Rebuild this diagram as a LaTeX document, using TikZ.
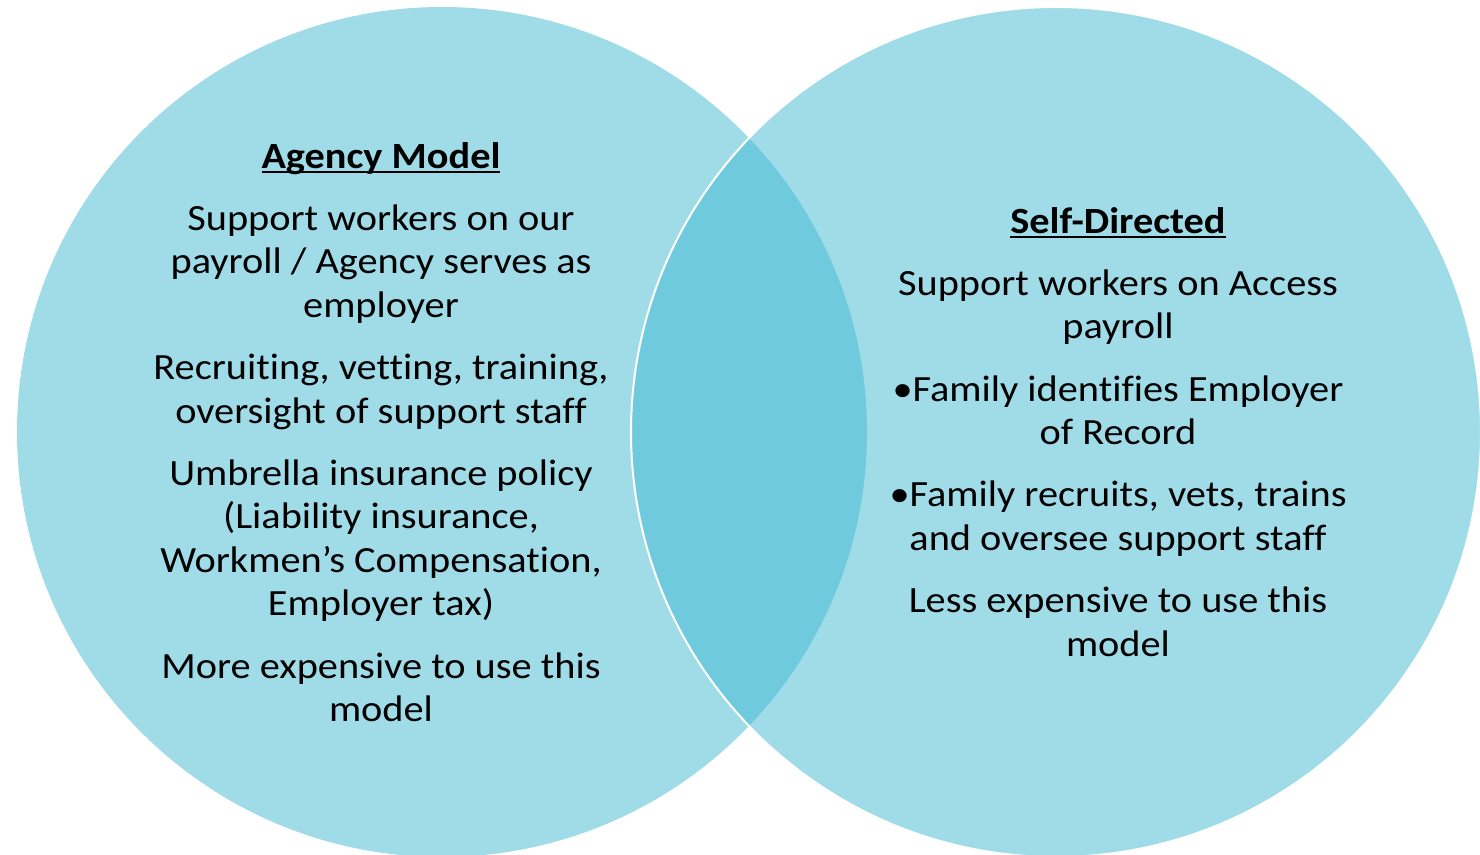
\documentclass[tikz,border=0pt]{standalone}
\usepackage{fontspec}
\setmainfont{Carlito}[FakeStretch=1.09, Ligatures=NoCommon]
\usetikzlibrary{positioning}
\definecolor{venn}{RGB}{160,220,232}
\definecolor{vennmid}{RGB}{112,202,222}
\newsavebox\headbox
\newcommand{\ulbold}[1]{\sbox\headbox{\textbf{#1}}\rlap{\rule[-2.5pt]{\wd\headbox}{1pt}}\usebox\headbox}
\tikzset{
  blurb/.style={align=center, inner sep=0pt, font=\fontsize{18.5}{21.75}\selectfont},
  gap/.style={below=9pt of #1},
}

\begin{document}
\begin{tikzpicture}[x=0.5pt, y=-0.5pt]
  \useasboundingbox (0,0) rectangle (1480,855);
  \coordinate (lc) at (442,432);
  \coordinate (rc) at (1056,432);
  % the two circles
  \fill[venn] (lc) circle[radius=212.5pt];
  \fill[venn] (rc) circle[radius=212.5pt];
  \begin{scope}
    \clip (lc) circle[radius=212.5pt];
    \fill[vennmid] (rc) circle[radius=212.5pt];
  \end{scope}
  \draw[white, line width=1pt] (rc) circle[radius=212.5pt];

  % left side
  \node[blurb, anchor=north] (agency) at (381,137.2) {\strut\ulbold{Agency Model}};
  \node[blurb, gap=agency] (agencypay) {\strut Support workers on our\\
    \strut payroll / Agency serves as\\ \strut employer};
  \node[blurb, gap=agencypay] (agencyrec) {\strut Recruiting, vetting, training,\\
    \strut oversight of support staff};
  \node[blurb, gap=agencyrec] (agencyins) {\strut Umbrella insurance policy\\
    \strut (Liability insurance,\\ \strut Workmen’s Compensation,\\ \strut Employer tax)};
  \node[blurb, gap=agencyins] (agencycost) {\strut More expensive to use this\\ \strut model};

  % right side
  \node[blurb, anchor=north] (self) at (1118,202.2) {\strut\ulbold{Self-Directed}};
  \node[blurb, gap=self] (selfpay) {\strut Support workers on Access\\ \strut payroll};
  \node[blurb, gap=selfpay] (selfeor) {\strut •Family identifies Employer\\ \strut of Record};
  \node[blurb, gap=selfeor] (selfrec) {\strut •Family recruits, vets, trains\\
    \strut and oversee support staff};
  \node[blurb, gap=selfrec] (selfcost) {\strut Less expensive to use this\\ \strut model};
\end{tikzpicture}
\end{document}
